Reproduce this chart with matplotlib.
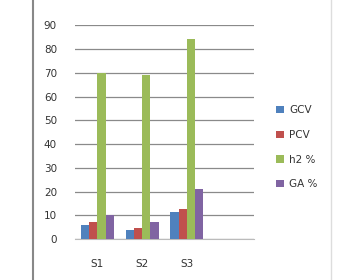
import numpy as np
import matplotlib
matplotlib.use("Agg")
import matplotlib.pyplot as plt
from matplotlib.lines import Line2D

# data
categories = ["S1", "S2", "S3", ""]
series = ["GCV", "PCV", "h2 %", "GA %"]
gcv = [5.8, 3.7, 11.3, 0]
pcv = [7.0, 4.8, 12.5, 0]
h2 = [70, 69, 84, 0]
ga = [10, 7, 21, 0]
yticks = list(range(0, 100, 10))

colors = ["#4F81BD", "#C0504D", "#9BBB59", "#8064A2"]
values = [gcv, pcv, h2, ga]

fig = plt.figure(figsize=(3.38, 2.80), dpi=100)
ax = fig.add_axes([0.222, 0.146, 0.529, 0.764])

x = np.arange(len(categories))
w = 0.185
for k in range(4):
    ax.bar(x + (k - 1.5) * w, values[k], width=w, color=colors[k],
           label=series[k], zorder=3)

ax.set_xlim(-0.5, len(categories) - 0.5)
ax.set_ylim(0, 90)
ax.set_yticks(yticks)
ax.set_xticks(x)
ax.set_xticklabels(categories)
ax.yaxis.grid(True, color="#8a8a8a", linewidth=0.9, zorder=0)
ax.tick_params(axis="both", length=0, labelsize=7.5, colors="#333333")
ax.tick_params(axis="y", pad=13)
ax.tick_params(axis="x", pad=14)
for s in ["top", "right", "left"]:
    ax.spines[s].set_visible(False)
ax.spines["bottom"].set_color("#bbbbbb")

ax.legend(loc="center left", bbox_to_anchor=(0.79, 0.474),
          bbox_transform=fig.transFigure, frameon=False, fontsize=7.5,
          handlelength=0.7, handleheight=0.7, handletextpad=0.5,
          labelspacing=1.42, labelcolor="#333333")

fig.add_artist(Line2D([33 / 338] * 2, [0, 1], color="#888888", linewidth=1.5))
fig.add_artist(Line2D([331 / 338] * 2, [0, 1], color="#dddddd", linewidth=1.0))

fig.savefig("out.png", dpi=100)
